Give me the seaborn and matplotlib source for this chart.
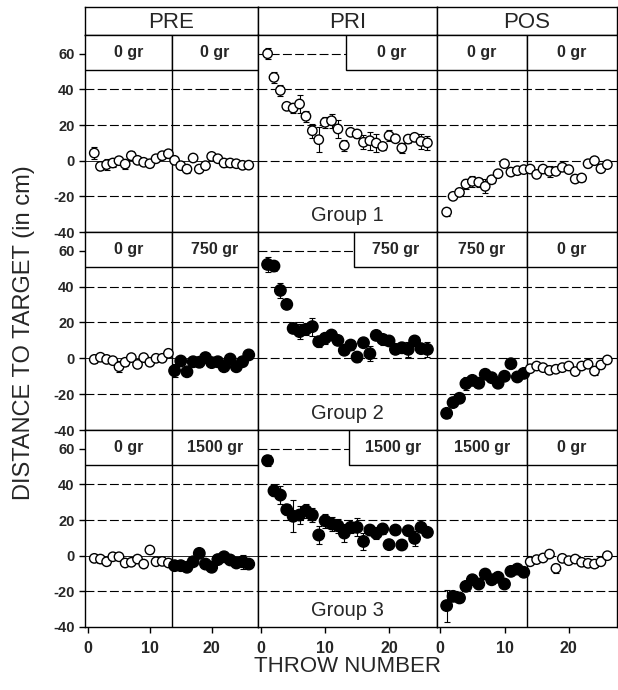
import numpy as np
import pandas as pd
import matplotlib.pyplot as plt
from matplotlib.patches import Rectangle
import seaborn as sns

# data: mean distance to target (cm) and error, per throw
throws = np.arange(1, 27)
phases = ['PRE', 'PRI', 'POS']
groups = ['Group 1', 'Group 2', 'Group 3']

g1_pre = [4.3, -3.2, -2.2, -1.3, 0.0, -1.9, 2.8, 0.2, -0.9, -1.7, 1.1, 2.8, 3.9,
          0.2, -2.8, -4.7, 1.5, -4.7, -2.8, 2.4, 1.1, -1.3, -1.3, -1.7, -2.6, -2.5]
g1_pre_err = [3.5, 2, 3, 2, 1.5, 2.5, 2.5, 1.5, 1.5, 2, 1.5, 1.5, 1.5,
              1.5, 1.5, 2, 1.5, 1.5, 2, 1.5, 1.5, 2.5, 2, 1.5, 1.5, 1.5]
g1_pri = [60.0, 46.7, 39.4, 30.5, 29.5, 31.8, 24.9, 16.8, 11.8, 21.5, 22.4, 17.8, 8.6,
          15.9, 15.0, 10.3, 11.2, 9.9, 8.0, 14.0, 12.3, 7.1, 12.1, 13.1, 10.8, 10.0]
g1_pri_err = [3, 3, 3, 2, 3, 5, 3, 4, 7, 3, 4, 5, 3,
              2, 2, 4, 5, 5, 2, 3, 2, 3, 2, 2, 4, 4]
g1_pos = [-28.8, -20.0, -17.8, -13.1, -11.6, -12.1, -14.4, -10.7, -7.3, -1.7, -6.4, -5.6, -5.0,
          -4.7, -7.7, -4.7, -6.0, -6.0, -3.7, -5.0, -10.3, -9.7, -1.7, 0.0, -4.5, -2.2]
g1_pos_err = [2, 1.5, 1.5, 3, 3, 2.5, 4, 2, 1.5, 1.5, 1.5, 1.5, 1.5,
              1.5, 1.5, 2, 3, 1.5, 1.5, 1.5, 1.5, 1.5, 1.5, 1.5, 1.5, 1.5]

g2_pre = [-0.6, 0.6, -0.6, -1.3, -4.7, -2.2, 0.4, -3.4, 0.4, -2.2, 0.0, 0.0, 2.8,
          -6.9, -1.5, -7.5, -1.9, -2.2, 0.4, -2.4, -1.9, -4.7, -0.4, -4.7, -1.9, 1.9]
g2_pre_err = [2, 1.5, 1.5, 1.5, 3, 2, 1.5, 1.5, 1.5, 1.5, 1.5, 1.5, 2,
              3.5, 1.5, 1.5, 1.5, 2.5, 1.5, 1.5, 1.5, 2, 1.5, 2.5, 2, 1.5]
g2_pri = [52.4, 51.5, 37.9, 30.1, 16.7, 14.9, 16.2, 17.7, 9.3, 11.2, 13.0, 10.0, 4.5,
          7.4, 0.7, 8.7, 2.6, 12.8, 10.6, 9.7, 5.0, 5.9, 5.0, 9.7, 5.4, 5.0]
g2_pri_err = [4, 3, 4, 2, 2, 4, 3, 5, 3, 3, 2, 2, 2,
              3, 3, 2, 4, 2, 3, 2, 2, 3, 4, 2, 2, 4]
g2_pos = [-30.7, -24.7, -22.3, -14.1, -12.3, -13.9, -8.9, -10.8, -13.9, -10.0, -3.0, -10.4, -8.4,
          -5.8, -4.3, -5.2, -6.7, -6.1, -5.2, -4.3, -7.4, -4.3, -3.3, -7.1, -3.7, -0.9]
g2_pos_err = [2.5, 2, 1.5, 3.5, 1.5, 1.5, 1.5, 1.5, 1.5, 1.5, 2, 2, 1.5,
              1.5, 1.5, 1.5, 1.5, 1.5, 1.5, 1.5, 1.5, 1.5, 1.5, 2, 1.5, 1.5]

g3_pre = [-1.5, -1.9, -3.4, -0.6, -0.6, -4.1, -3.7, -1.9, -4.7, 3.2, -3.4, -3.2, -4.1,
          -5.6, -5.6, -6.5, -3.4, 1.3, -4.7, -6.5, -2.2, -0.6, -2.4, -4.1, -3.4, -4.7]
g3_pre_err = [2, 2, 2, 2, 1.5, 1.5, 1.5, 1.5, 1.5, 1.5, 1.5, 1.5, 1.5,
              2.5, 2, 2, 1.5, 1.5, 1.5, 1.5, 1.5, 1.5, 1.5, 1.5, 4, 1.5]
g3_pri = [53.3, 36.4, 34.0, 25.8, 22.1, 22.8, 25.2, 22.8, 11.6, 19.6, 17.8, 16.8, 12.7,
          15.9, 15.9, 8.0, 14.4, 12.5, 15.0, 6.2, 14.4, 6.0, 14.0, 9.7, 15.9, 13.1]
g3_pri_err = [3, 3, 5, 3, 9, 5, 4, 4, 5, 4, 4, 4, 5,
              3, 5, 5, 3, 3, 3, 2, 2, 2, 2, 4, 2, 2]
g3_pos = [-28.0, -22.8, -23.7, -17.2, -13.5, -15.9, -10.3, -13.5, -12.1, -15.9, -8.8, -7.5, -9.3,
          -3.4, -2.2, -1.3, 0.9, -7.1, -1.5, -2.8, -1.9, -3.7, -4.3, -4.7, -3.4, 0.0]
g3_pos_err = [9, 2.5, 2.5, 1.5, 1.5, 1.5, 1.5, 2.5, 1.5, 1.5, 1.5, 1.5, 1.5,
              1.5, 1.5, 1.5, 1.5, 2.5, 1.5, 1.5, 1.5, 1.5, 1.5, 1.5, 1.5, 1.5]

means = [[g1_pre, g1_pri, g1_pos], [g2_pre, g2_pri, g2_pos], [g3_pre, g3_pri, g3_pos]]
errs = [[g1_pre_err, g1_pri_err, g1_pos_err], [g2_pre_err, g2_pri_err, g2_pos_err],
        [g3_pre_err, g3_pri_err, g3_pos_err]]

# load (gr) in first / second half of each phase
loads = [[('0 gr', '0 gr'), ('0 gr',), ('0 gr', '0 gr')],
         [('0 gr', '750 gr'), ('750 gr',), ('750 gr', '0 gr')],
         [('0 gr', '1500 gr'), ('1500 gr',), ('1500 gr', '0 gr')]]
pri_box_start = [13.2, 14.5, 13.8]

sns.set_style("ticks")
plt.rcParams['font.family'] = ['Liberation Sans', 'DejaVu Sans']

W, H = 618, 690
fig = plt.figure(figsize=(W / 100, H / 100), dpi=100)


def px_axes(x0, y0, x1, y1):
    return fig.add_axes([x0 / W, 1 - y1 / H, (x1 - x0) / W, (y1 - y0) / H])


col_edges = [85, 258, 437, 617]
row_edges = [35, 232, 430, 627]
xlim = (-0.5, 27.5)
ylim = (-40, 70.5)
split = 13.5

# phase headers
for j, ph in enumerate(phases):
    hax = px_axes(col_edges[j], 7, col_edges[j + 1], 35)
    hax.set_xticks([])
    hax.set_yticks([])
    for s in hax.spines.values():
        s.set_linewidth(1.0)
        s.set_color('black')
    hax.text(0.5, 0.45, ph, ha='center', va='center', fontsize=16, transform=hax.transAxes)

for i in range(3):
    for j in range(3):
        ax = px_axes(col_edges[j], row_edges[i], col_edges[j + 1], row_edges[i + 1])
        ax.set_xlim(*xlim)
        ax.set_ylim(*ylim)
        for s in ax.spines.values():
            s.set_linewidth(1.0)
            s.set_color('black')

        for g in [60, 40, 20, 0, -20]:
            if g == 0 and j == 0:
                ax.axhline(g, color='black', lw=0.6, zorder=1)
            else:
                ax.axhline(g, color='black', lw=0.8, ls=(0, (8, 3)), zorder=1)

        y = np.array(means[i][j])
        e = np.array(errs[i][j])
        lab = loads[i][j]
        if j == 1:
            loaded = [lab[0] != '0 gr'] * len(throws)
        else:
            loaded = [(lab[0] if t <= split else lab[1]) != '0 gr' for t in throws]
        df = pd.DataFrame({'throw': throws, 'dist': y,
                           'loaded': ['yes' if v else 'no' for v in loaded]})

        ax.errorbar(df['throw'], df['dist'], yerr=e, fmt='none', ecolor='black',
                    elinewidth=0.8, capsize=2.5, capthick=0.8, zorder=2)
        sns.scatterplot(data=df, x='throw', y='dist', hue='loaded', size='loaded',
                        palette={'no': 'white', 'yes': 'black'},
                        sizes={'no': 46, 'yes': 68}, edgecolor='black', linewidth=1.0,
                        legend=False, ax=ax, zorder=4)

        # load boxes
        if j == 1:
            x0 = pri_box_start[i]
            ax.add_patch(Rectangle((x0, 51), xlim[1] - x0, ylim[1] - 51, facecolor='white',
                                   edgecolor='black', lw=1.0, zorder=5))
            ax.text((x0 + xlim[1]) / 2, 60.5, lab[0], ha='center', va='center',
                    fontsize=11.5, fontweight='bold', zorder=6)
            ax.text(13.5, -31, groups[i], ha='center', va='center', fontsize=14.5, zorder=6)
        else:
            ax.axvline(split, color='black', lw=1.0, zorder=3)
            for k, (a, b) in enumerate([(xlim[0], split), (split, xlim[1])]):
                ax.add_patch(Rectangle((a, 51), b - a, ylim[1] - 51, facecolor='white',
                                       edgecolor='black', lw=1.0, zorder=5))
                ax.text((a + b) / 2, 60.5, lab[k], ha='center', va='center',
                        fontsize=11.5, fontweight='bold', zorder=6)

        ax.set_xlabel('')
        ax.set_ylabel('')
        ax.tick_params(direction='out', length=4, width=1.0, color='black')
        if j == 0:
            ax.set_yticks([-40, -20, 0, 20, 40, 60])
            ax.set_yticklabels(['-40', '-20', '0', '20', '40', '60'],
                               fontsize=10.5, fontweight='bold')
        else:
            ax.set_yticks([])
        if i == 2:
            ax.set_xticks([0, 10, 20])
            ax.set_xticklabels(['0', '10', '20'], fontsize=11.5, fontweight='bold')
            ax.tick_params(axis='x', pad=6)
        else:
            ax.set_xticks([])

fig.text(24 / W, 1 - 333 / H, 'DISTANCE TO TARGET (in cm)', rotation=90,
         ha='center', va='center', fontsize=17)
fig.text(348 / W, 1 - 667 / H, 'THROW NUMBER', ha='center', va='center', fontsize=16)

fig.savefig('out.png', dpi=100)
